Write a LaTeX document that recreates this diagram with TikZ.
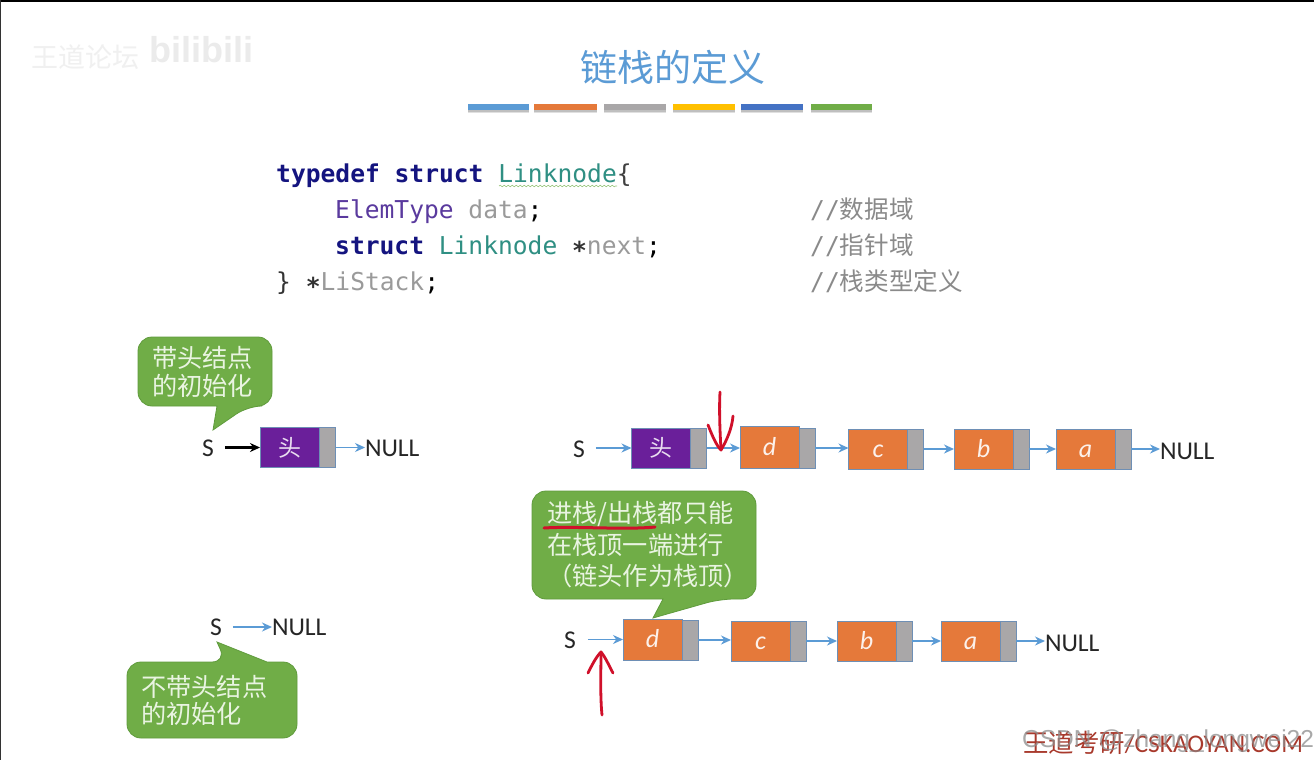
\documentclass[tikz,border=0pt]{standalone}
\usepackage{fontspec}
\setmainfont{Carlito}
\setmonofont{DejaVu Sans Mono}
\setsansfont{Liberation Sans}
\newfontfamily\cjk{Noto Sans CJK SC}
\usetikzlibrary{arrows.meta,decorations.pathmorphing}
\definecolor{ablue}{HTML}{5B9BD5}
\definecolor{aorange}{HTML}{E5793A}
\definecolor{agray}{HTML}{A9A7A8}
\definecolor{ayellow}{HTML}{FFC000}
\definecolor{adblue}{HTML}{4472C4}
\definecolor{agreen}{HTML}{70AD47}
\definecolor{agreenl}{HTML}{5F9B3C}
\definecolor{apurple}{HTML}{6A1F9A}
\definecolor{cellline}{HTML}{6E8FB5}
\definecolor{calltext}{HTML}{E9F4E1}
\definecolor{kw}{HTML}{14147F}
\definecolor{typ}{HTML}{2F8F83}
\definecolor{etyp}{HTML}{5A3A9E}
\definecolor{idn}{HTML}{9A9A9A}
\definecolor{cmt}{HTML}{8A8A8A}
\definecolor{pen}{HTML}{D0102A}
\definecolor{wm}{HTML}{A8392C}
\newcommand{\codefs}{\fontsize{24.6}{30}\selectfont\ttfamily}
\newcommand{\cjkfs}{\fontsize{25.2}{31}\selectfont\cjk}
\tikzset{
  x=1pt,y=-1pt,
  cellbase/.style={draw=cellline,line width=0.9pt,inner sep=0pt,outer sep=0pt,minimum height=40pt},
  headcell/.style={cellbase,fill=apurple,minimum width=59pt,text=white!85!apurple,font=\fontsize{23}{25}\selectfont\cjk},
  datacell/.style={cellbase,fill=aorange,minimum width=59pt,text=white!90!aorange,font=\fontsize{26}{28}\selectfont\itshape,text height=16pt,text depth=0pt},
  ptrcell/.style={cellbase,fill=agray,minimum width=16pt},
  link/.style={draw=ablue,line width=1.4pt,-{Stealth[length=10pt,width=9pt]}},
  blacklink/.style={draw=black,line width=2.2pt,-{Stealth[length=10pt,width=9pt]}},
  lbl/.style={inner sep=0pt,outer sep=0pt,text=black!85,font=\fontsize{25.6}{28}\selectfont,text height=16.4pt,text depth=0pt},
  callout/.style={fill=agreen,draw=agreenl,line width=0.8pt,rounded corners=14pt},
  calltxt/.style={inner sep=0pt,anchor=north west,align=left,text=calltext,font=\cjkfs},
  code/.style={inner sep=0pt,anchor=base west,font=\codefs},
  comment/.style={code,text=cmt},
  penline/.style={draw=pen,line width=2.8pt,line cap=round,line join=round},
}
\begin{document}
\begin{tikzpicture}
\useasboundingbox (0,0) rectangle (1314,760);
\fill[white] (0,0) rectangle (1314,760);
\fill[black] (0,0) rectangle (1314,1.6);
\fill[black!80] (0,0) rectangle (1,760);
% watermark top-left
\node[inner sep=0pt,text=black!6,font=\fontsize{27}{30}\selectfont\cjk] (wma) at (85,57) {王道论坛};
\node[inner sep=0pt,text=black!8,font=\fontsize{36}{40}\selectfont\bfseries\sffamily] (wmb) at (201,50) {bilibili};
% title
\node[inner sep=0pt,text=ablue,font=\fontsize{37}{40}\selectfont\cjk] (title) at (673,67) {链栈的定义};
% bars
\foreach \xa/\xb/\c in {468/529/ablue,534/597/aorange,604/666/agray,673/735/ayellow,741/803/adblue,811/872/agreen}{
  \fill[black!12] (\xa,107) rectangle (\xb,113);
  \fill[black!25] (\xa,107) rectangle (\xb,111.5);
  \fill[\c] (\xa,104) rectangle (\xb,110);
}
% code
\draw[agreen!70,line width=0.6pt,decorate,decoration={snake,amplitude=0.8pt,segment length=4pt}] (499,186) -- (617,186);
\node[code] (c1) at (276,182) {\textcolor{kw}{\bfseries typedef struct} \textcolor{typ}{Linknode}\textcolor{black!75}{\{}};
\node[code] (c2) at (335,218) {\textcolor{etyp}{ElemType} \textcolor{idn}{data}\textcolor{black}{;}};
\node[code] (c3) at (335,254) {\textcolor{kw}{\bfseries struct} \textcolor{typ}{Linknode} \textcolor{black!80}{\bfseries ∗}\textcolor{idn}{next}\textcolor{black}{;}};
\node[code] (c4) at (276,290) {\textcolor{black!80}{\} \bfseries ∗}\textcolor{idn}{LiStack}\textcolor{black}{;}};
\node[comment] (m1) at (810,218) {//{\cjk 数据域}};
\node[comment] (m2) at (810,254) {//{\cjk 指针域}};
\node[comment] (m3) at (810,290) {//{\cjk 栈类型定义}};
% callouts
\draw[callout] (138,337) -- (272,337) -- (272,406) -- (248,406)
  [sharp corners] -- (213,430) -- (217,406) [rounded corners=14pt] -- (138,406) -- cycle;
\node[calltxt] (t1) at (152,346) {带头结点\\[-3pt]的初始化};
\draw[callout] (532,491) -- (756,491) -- (756,599) -- (720,599)
  [sharp corners] -- (653,618) -- (663,599) [rounded corners=14pt] -- (532,599) -- cycle;
\node[calltxt] (t2) at (547,501) {进栈/出栈都只能\\[1pt]在栈顶一端进行\\（链头作为栈顶）};
\draw[callout] (127,662) -- (226,662) [sharp corners] -- (217,642) -- (267,662) [rounded corners=14pt]
  -- (297,662) -- (297,738) -- (127,738) -- cycle;
\node[calltxt] (t3) at (141,675) {不带头结点\\[-4pt]的初始化};
% top-left row
\node[lbl] (sa) at (208,448) {S};
\node[headcell] (ah) at (289.5,447.5) {头};
\node[ptrcell] (ap) at (327,447.5) {};
\node[lbl,anchor=west] (an) at (365,448) {NULL};
\draw[blacklink] ([xshift=11pt]sa.east |- ah.west) -- (ah.west);
\draw[link] ([xshift=1pt]ap.east) -- (ap.east -| an.west);
% bottom-left row
\node[lbl] (sb) at (216,627) {S};
\node[lbl,anchor=west] (nb) at (272,627) {NULL};
\draw[link] ([xshift=11pt]sb.east) -- (nb.west);
% top-right row
\node[lbl] (sc) at (579,449) {S};
\node[headcell] (ch) at (661,448) {头};
\node[ptrcell] (chp) at (698.5,448) {};
\node[datacell,minimum height=42pt] (cd) at (769.5,447) {d};
\node[ptrcell] (cdp) at (807,448) {};
\node[datacell] (cc) at (878,449) {c};
\node[ptrcell] (ccp) at (915.5,449) {};
\node[datacell] (cb) at (983.5,449) {b};
\node[ptrcell] (cbp) at (1021,449) {};
\node[datacell] (ca) at (1085.5,449) {a};
\node[ptrcell] (cap) at (1123,449) {};
\node[lbl,anchor=west] (cn) at (1160,451) {NULL};
\draw[link] ([xshift=11pt]sc.east |- ch.west) -- (ch.west);
\draw[link] (chp.east) -- (chp.east -| cd.west);
\draw[link] (cdp.east) -- (cdp.east -| cc.west);
\draw[link] (ccp.east) -- (cb.west);
\draw[link] (cbp.east) -- (ca.west);
\draw[link] (cap.east) -- (cap.east -| cn.west);
% bottom-right row
\node[lbl] (sd) at (570,640) {S};
\node[datacell,minimum height=41pt] (dd) at (652.5,639.5) {d};
\node[ptrcell] (ddp) at (690,640) {};
\node[datacell] (dc) at (760.5,641) {c};
\node[ptrcell] (dcp) at (798,641) {};
\node[datacell] (db) at (866.5,641) {b};
\node[ptrcell] (dbp) at (904,641) {};
\node[datacell] (da) at (970.5,641) {a};
\node[ptrcell] (dap) at (1008,641) {};
\node[lbl,anchor=west] (dn) at (1045,643) {NULL};
\draw[link] ([xshift=12pt]sd.east |- dd.west) -- (dd.west);
\draw[link] (ddp.east) -- (ddp.east -| dc.west);
\draw[link] (dcp.east) -- (db.west);
\draw[link] (dbp.east) -- (da.west);
\draw[link] (dap.east) -- (dap.east -| dn.west);
% pen marks
\draw[penline] (720,392) .. controls (719,410) and (720,432) .. (721,450);
\draw[penline] (708,425) .. controls (712,435) and (716,445) .. (721,450) .. controls (727,440) and (732,428) .. (733,416);
\draw[penline] (602,715) .. controls (600,695) and (601,670) .. (601,652);
\draw[penline] (588,673) .. controls (592,665) and (596,657) .. (601,652) .. controls (606,658) and (610,668) .. (613,673);
\draw[penline,line width=3pt] (544,528) .. controls (575,526) and (625,530) .. (655,527);
% bottom-right watermarks
\node[inner sep=0pt,anchor=base west,text=wm,font=\fontsize{25.4}{26}\selectfont] (wmc) at (1023,752) {{\cjk 王道考研}/CSKAOYAN.COM};
\node[inner sep=0pt,anchor=base west,text=black!45,opacity=0.75,font=\fontsize{24.5}{26}\selectfont\sffamily] (wmd) at (1022,747) {CSDN @zhang\_longwei22};
\end{tikzpicture}
\end{document}
